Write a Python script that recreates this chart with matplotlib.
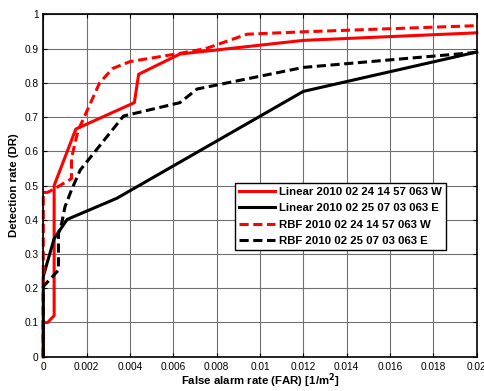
import matplotlib
matplotlib.use("Agg")
import matplotlib.pyplot as plt

plt.rcParams['font.family'] = ['Liberation Sans', 'DejaVu Sans']

lin_w_x = [0, 0, 0.0002, 0.0005, 0.0005, 0.0015, 0.0042, 0.0044, 0.0063, 0.012, 0.02]
lin_w_y = [0, 0.10, 0.10, 0.12, 0.50, 0.665, 0.742, 0.825, 0.884, 0.924, 0.946]

lin_e_x = [0, 0, 0.0005, 0.0011, 0.0034, 0.012, 0.02]
lin_e_y = [0, 0.235, 0.345, 0.401, 0.463, 0.775, 0.89]

rbf_w_x = [0, 0, 0.0002, 0.0005, 0.0013, 0.0013, 0.0016, 0.0026, 0.0032, 0.004, 0.0063, 0.0075, 0.0094, 0.012, 0.02]
rbf_w_y = [0, 0.48, 0.48, 0.49, 0.52, 0.58, 0.66, 0.80, 0.842, 0.862, 0.886, 0.90, 0.942, 0.949, 0.967]

rbf_e_x = [0, 0, 0.0007, 0.0007, 0.00085, 0.001, 0.0013, 0.0017, 0.0037, 0.0063, 0.0071, 0.012, 0.02]
rbf_e_y = [0, 0.205, 0.253, 0.36, 0.39, 0.438, 0.487, 0.545, 0.703, 0.742, 0.782, 0.845, 0.889]

labels = ["Linear 2010 02 24 14 57 063 W", "Linear 2010 02 25 07 03 063 E",
          "RBF 2010 02 24 14 57 063 W", "RBF 2010 02 25 07 03 063 E"]

xticks = [0, 0.002, 0.004, 0.006, 0.008, 0.01, 0.012, 0.014, 0.016, 0.018, 0.02]
xticklabels = ["0", "0.002", "0.004", "0.006", "0.008", "0.01", "0.012", "0.014", "0.016", "0.018", "0.02"]
yticks = [0, 0.1, 0.2, 0.3, 0.4, 0.5, 0.6, 0.7, 0.8, 0.9, 1]
yticklabels = ["0", "0.1", "0.2", "0.3", "0.4", "0.5", "0.6", "0.7", "0.8", "0.9", "1"]

fig = plt.figure(figsize=(4.85, 3.91), dpi=100)
ax = fig.add_axes([0.0893, 0.0877, 0.8937, 0.8756])

ax.set_xlim(0, 0.02)
ax.set_ylim(0, 1)
ax.set_xticks(xticks)
ax.set_xticklabels(xticklabels)
ax.set_yticks(yticks)
ax.set_yticklabels(yticklabels)
ax.grid(True, color='#707070', linewidth=0.8)
ax.set_axisbelow(True)

ax.plot(lin_w_x, lin_w_y, color='#ff0000', lw=2.2, ls='-', label=labels[0], clip_on=False)
ax.plot(lin_e_x, lin_e_y, color='black', lw=2.2, ls='-', label=labels[1], clip_on=False)
ax.plot(rbf_w_x, rbf_w_y, color='#ff0000', lw=2.2, ls=(0, (3, 1.5)), label=labels[2], clip_on=False)
ax.plot(rbf_e_x, rbf_e_y, color='black', lw=2.2, ls=(0, (3, 1.5)), label=labels[3], clip_on=False)

ax.tick_params(direction='in', top=True, right=True, labelsize=7.3, length=3, pad=3.5)
for s in ax.spines.values():
    s.set_linewidth(1.2)

ax.set_xlabel("False alarm rate (FAR) [1/m$^\\mathbf{2}$]", fontsize=8.2, fontweight='bold', labelpad=0)
ax.set_ylabel("Detection rate (DR)", fontsize=8.2, fontweight='bold', labelpad=4)

leg = ax.legend(loc='upper left', bbox_to_anchor=(0.442, 0.507),
                prop={'weight': 'bold', 'size': 8.2}, frameon=True, fancybox=False,
                edgecolor='black', framealpha=1, borderpad=0.35, labelspacing=0.55,
                handlelength=3.2, handletextpad=0.3, borderaxespad=0)
leg.get_frame().set_linewidth(1.0)

fig.savefig("out.png", dpi=100)
